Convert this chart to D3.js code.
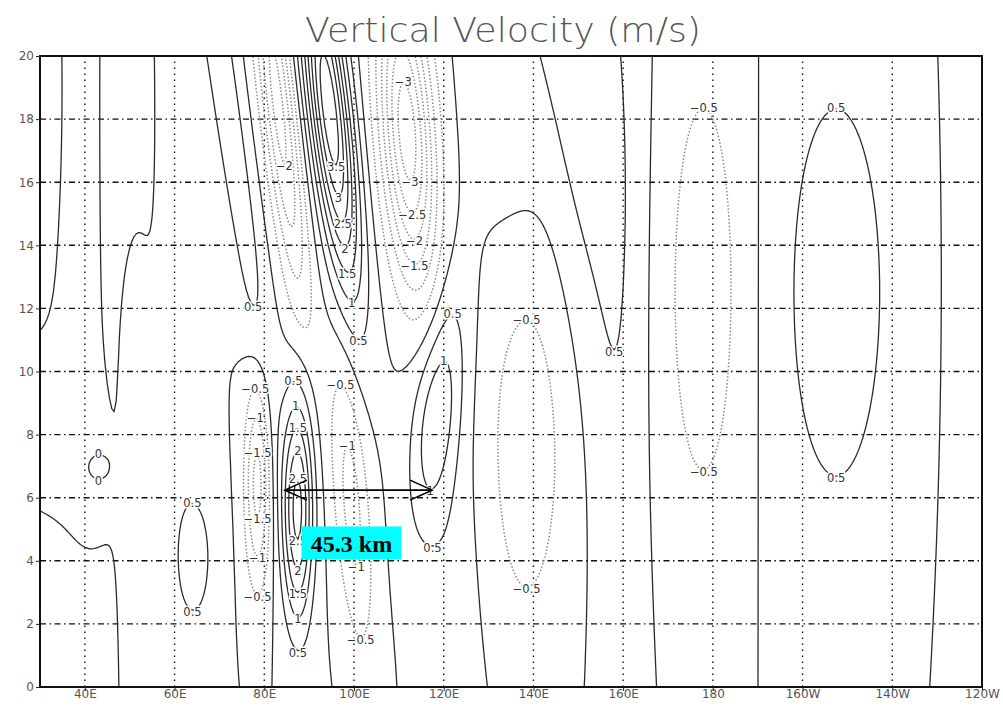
<!DOCTYPE html>
<html>
<head>
<meta charset="utf-8">
<script src="https://cdn.jsdelivr.net/npm/d3@7"></script>
<style>
  body { margin: 0; background: #fff; }
  svg { display: block; }
</style>
</head>
<body>
<div id="chart"></div>
<script>
// axis ticks
const lonTicks = [40, 60, 80, 100, 120, 140, 160, 180, 200, 220, 240];
const lonTickLabels = ["40E", "60E", "80E", "100E", "120E", "140E", "160E", "180", "160W", "140W", "120W"];
const hgtTicks = [0, 2, 4, 6, 8, 10, 12, 14, 16, 18, 20];

// contour levels (m/s)
const levels = [-4, -3.5, -3, -2.5, -2, -1.5, -1, -0.5, 0, 0.5, 1, 1.5, 2, 2.5, 3, 3.5, 4];

// velocity cells: centre (lon, height), peak value,
// spread in lon / height, and lean of the centre in degrees lon per unit height
const cellLon  = [ 83,   94.5, 112,  70,   78.5, 87.5, 99.5, 118.5, 118, 138.5, 135, 151.5, 159, 178,  207.5, 252, 65.2, 58,  30,    39.5, 49.5,  51,   60,   36,  42,    34  ];
const cellHgt  = [ 18.5, 18.3, 17.5, 20,   6.5,  5.7,  5.8,  8.7,   10,  7.8,   20,  20,    6,   12.6, 12.5,  12,  4.1,  3,   18,    15,   16,    11.5, 14,   7.5, 7,     1   ];
const cellAmp  = [-2.2,  3.9, -3.6,  0.9, -1.7,  2.6, -1.2,  1.1,   0.45, -0.8, 0.4, 0.85,  0.3, -0.8,  0.8, -0.8, 0.55, 0.2, -0.25, 0.25, -0.35, 0.55, 0.25, 0.2, -0.25, -0.3];
const cellSLon = [ 2.6,  3.2,  4.2,  2.5,  2,    2.4,  2.8,  3.6,   5,   7,     6,   7,     4,   7,    10,    9,   3.2,  6,   3,     3,    4,     2.2,  3.5,  6,   1.8,   6.5 ];
const cellSHgt = [ 4.5,  3.8,  3.6,  8.5,  2.3,  2.4,  3.2,  2.5,   9,   4.8,   4.5, 6.5,   8,   6.0,  6.0,   9,   1.8,  4,   3,     6,    5,     2.5,  8,    2,   0.35,  3   ];
const cellLean = [-0.8, -0.8, -0.5, -1.0,  0,    0,   -0.5,  0.8,  -0.5, 0,     0,  -0.4,   0,   0,    0,     0,   0,    0,   0,     0,    0,     0,    0,    0,   0,     0   ];

// annotation
const arrowLon = [84.6, 117.4];
const arrowHgt = 6.24;
const noteText = "45.3 km";

const width = 1003, height = 706;
const margin = { top: 56, right: 21, bottom: 19, left: 40 };

const svg = d3.select("#chart").append("svg").attr("width", width).attr("height", height);

const x = d3.scaleLinear().domain([30, 240]).range([margin.left, width - margin.right]);
const y = d3.scaleLinear().domain([0, 20]).range([height - margin.bottom, margin.top]);

// title
svg.append("text")
    .attr("x", 503).attr("y", 42)
    .attr("text-anchor", "middle")
    .attr("font-family", "DejaVu Sans")
    .attr("font-weight", 200)
    .attr("font-size", 33)
    .attr("fill", "#555")
    .attr("textLength", 396)
    .attr("lengthAdjust", "spacingAndGlyphs")
    .text("Vertical Velocity (m/s)");

svg.append("clipPath").attr("id", "plot-clip")
    .append("rect")
    .attr("x", x(30)).attr("y", y(20))
    .attr("width", x(240) - x(30)).attr("height", y(0) - y(20));

// grid
const gridG = svg.append("g");
gridG.selectAll("line.v").data(lonTicks.filter(d => d < 240)).join("line")
    .attr("x1", d => x(d)).attr("x2", d => x(d))
    .attr("y1", y(0)).attr("y2", y(20))
    .attr("stroke", "#111").attr("stroke-width", 1.4)
    .attr("stroke-dasharray", "1.5,4.5");
gridG.selectAll("line.h").data(hgtTicks.filter(d => d > 0 && d < 20)).join("line")
    .attr("x1", x(30)).attr("x2", x(240))
    .attr("y1", d => y(d)).attr("y2", d => y(d))
    .attr("stroke", "#111").attr("stroke-width", 1.4)
    .attr("stroke-dasharray", "6,3.5,1.5,3.5");

// build the field on a grid that runs past the frame, so contour rings close outside it
const lon0 = 20, lonStep = 0.5, nx = 461;
const hgt0 = -2, hgtStep = 0.1, ny = 241;
const values = new Float64Array(nx * ny);
for (let j = 0; j < ny; j++) {
    const h = hgt0 + j * hgtStep;
    for (let i = 0; i < nx; i++) {
        const lon = lon0 + i * lonStep;
        let v = 0;
        for (let k = 0; k < cellLon.length; k++) {
            const c = cellLon[k] + cellLean[k] * (h - cellHgt[k]);
            const dx = (lon - c) / cellSLon[k];
            const dy = (h - cellHgt[k]) / cellSHgt[k];
            v += cellAmp[k] * Math.exp(-0.5 * (dx * dx + dy * dy));
        }
        values[j * nx + i] = v;
    }
}

const contours = d3.contours().size([nx, ny]).thresholds(levels)(values);

const toPx = p => [x(lon0 + (p[0] - 0.5) * lonStep), y(hgt0 + (p[1] - 0.5) * hgtStep)];
const line = d3.line().curve(d3.curveLinearClosed);

const contourG = svg.append("g").attr("clip-path", "url(#plot-clip)");
const rings = [];
contours.forEach(c => {
    c.coordinates.forEach(poly => {
        poly.forEach(ring => {
            rings.push({ value: c.value, pts: ring.map(toPx) });
        });
    });
});

contourG.selectAll("path").data(rings).join("path")
    .attr("d", d => line(d.pts))
    .attr("fill", "none")
    .attr("stroke", d => d.value < 0 ? "#8a8a8a" : "#2b2b2b")
    .attr("stroke-width", d => d.value < 0 ? 1.5 : 1.3)
    .attr("stroke-dasharray", d => d.value < 0 ? "1.5,2" : null);

// contour labels at the tips of each ring
const fmt = v => (v < 0 ? "\u2212" : "") + d3.format("~g")(Math.abs(v));
const placed = [];
const labelG = svg.append("g");
const x0 = x(30) + 10, x1 = x(240) - 10, y0 = y(20) + 10, y1 = y(0) - 10;
rings.forEach(r => {
    let lo = null, hi = null;
    r.pts.forEach(p => {
        if (!lo || p[1] > lo[1]) lo = p;
        if (!hi || p[1] < hi[1]) hi = p;
    });
    [lo, hi].forEach((p, idx) => {
        if (!p) return;
        if (p[0] < x0 || p[0] > x1 || p[1] < y0 || p[1] > y1) return;
        const txt = fmt(r.value);
        const w = txt.length * 6.5 + 2, hgt = 11;
        const ly = idx === 0 ? p[1] + 2 : p[1] - 1;
        const box = [p[0] - w / 2, ly - hgt / 2, p[0] + w / 2, ly + hgt / 2];
        const hit = placed.some(b => !(box[2] < b[0] || box[0] > b[2] || box[3] < b[1] || box[1] > b[3]));
        if (hit) return;
        placed.push(box);
        labelG.append("text")
            .attr("x", p[0]).attr("y", ly)
            .attr("dy", "0.35em")
            .attr("text-anchor", "middle")
            .attr("font-family", "DejaVu Sans")
            .attr("font-size", 11.5)
            .attr("fill", "#333")
            .attr("stroke", "#fff").attr("stroke-width", 3)
            .attr("paint-order", "stroke")
            .text(txt);
    });
});

// frame
svg.append("rect")
    .attr("x", x(30)).attr("y", y(20))
    .attr("width", x(240) - x(30)).attr("height", y(0) - y(20))
    .attr("fill", "none").attr("stroke", "#111").attr("stroke-width", 2);

// axes
const xAxis = d3.axisBottom(x).tickValues(lonTicks).tickFormat((d, i) => lonTickLabels[i]).tickSize(4);
const yAxis = d3.axisLeft(y).tickValues(hgtTicks).tickSize(4);
const xg = svg.append("g").attr("transform", `translate(0,${y(0)})`).call(xAxis);
const yg = svg.append("g").attr("transform", `translate(${x(30)},0)`).call(yAxis);
[xg, yg].forEach(g => {
    g.select(".domain").remove();
    g.selectAll("text").attr("font-family", "DejaVu Sans").attr("font-size", 12).attr("fill", "#555");
    g.selectAll("line").attr("stroke", "#222");
});
xg.selectAll("text").attr("dy", "0.55em").attr("y", 4);
yg.selectAll("text").attr("x", -6);

// width annotation
const annG = svg.append("g");
const ay = y(arrowHgt);
annG.append("line")
    .attr("x1", x(arrowLon[0])).attr("x2", x(arrowLon[1]))
    .attr("y1", ay).attr("y2", ay)
    .attr("stroke", "#000").attr("stroke-width", 1.6);
[[arrowLon[0], 1], [arrowLon[1], -1]].forEach(([lon, s]) => {
    annG.append("polyline")
        .attr("points", `${x(lon) + s * 22},${ay - 10} ${x(lon)},${ay} ${x(lon) + s * 22},${ay + 10}`)
        .attr("fill", "none").attr("stroke", "#000").attr("stroke-width", 1.6);
});
const noteX = x((arrowLon[0] + arrowLon[1]) / 2) - 7;
const noteY = y(4.55);
annG.append("rect")
    .attr("x", noteX - 50).attr("y", noteY - 17)
    .attr("width", 100).attr("height", 33)
    .attr("fill", "#00ffff");
annG.append("text")
    .attr("x", noteX).attr("y", noteY)
    .attr("dy", "0.35em")
    .attr("text-anchor", "middle")
    .attr("font-family", "Liberation Serif")
    .attr("font-weight", "bold")
    .attr("font-size", 24)
    .attr("fill", "#000")
    .text(noteText);
</script>
</body>
</html>
